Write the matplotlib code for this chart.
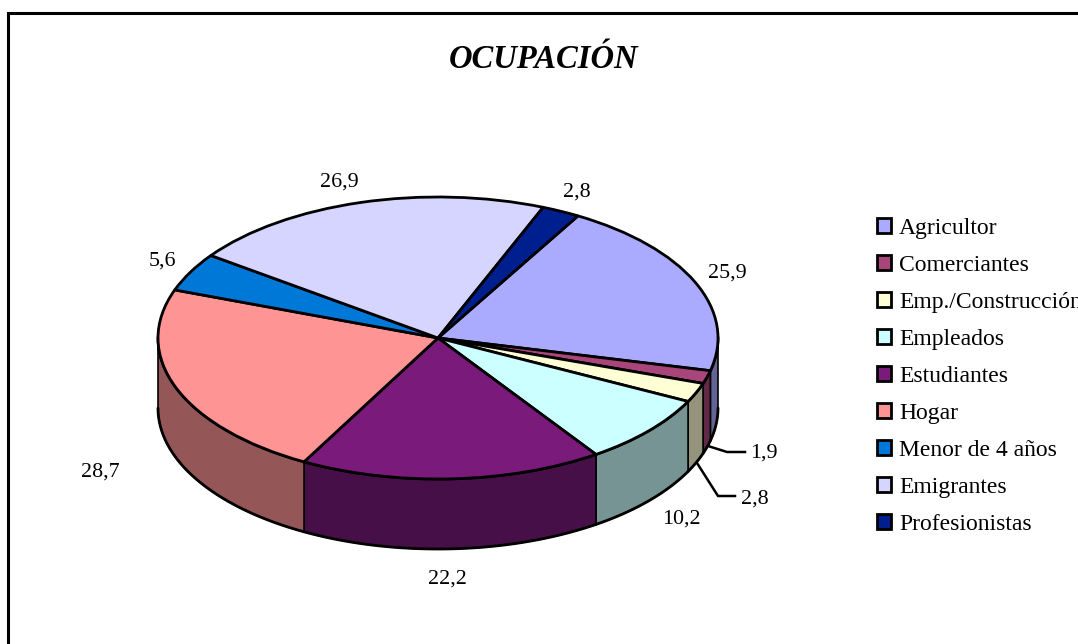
import numpy as np
import matplotlib
matplotlib.use("Agg")
import matplotlib.pyplot as plt
from matplotlib.lines import Line2D
from matplotlib.colors import to_rgb

categories = ["Agricultor", "Comerciantes", "Emp./Construcción", "Empleados", "Estudiantes",
              "Hogar", "Menor de 4 años", "Emigrantes", "Profesionistas"]
values = [25.9, 1.9, 2.8, 10.2, 22.2, 28.7, 5.6, 26.9, 2.8]
value_labels = ["25,9", "1,9", "2,8", "10,2", "22,2", "28,7", "5,6", "26,9", "2,8"]
colors = ["#AAAAFF", "#A8457A", "#FFFFD5", "#CCFFFF", "#7A1A7A", "#FF9494", "#0078D7", "#D5D5FF", "#001F8F"]

W, H = 1078, 644
CX, CY, RX, RY, DEPTH = 438, 338, 280, 141, 70
START = 60
FONT = "Liberation Serif"
LW = 2.0

label_px = [(727, 273), (764, 453), (755, 499), (681, 519), (447, 579),
            (100, 472), (162, 261), (339, 182), (577, 192)]
leaders_px = {1: [(708, 446), (727, 452), (745, 452)],
              2: [(697, 463), (718, 496), (735, 496)]}

fig = plt.figure(figsize=(W / 100, H / 100), dpi=100, facecolor="white")
ax = fig.add_axes([0, 0, 1, 1])

wedges, _ = ax.pie(values, colors=colors, startangle=START, counterclock=False,
                   wedgeprops=dict(edgecolor="black", linewidth=LW, joinstyle="round"))
for w in wedges:
    w.set_zorder(3)

ax.set_aspect("auto")
ax.set_xlim(-CX / RX, (W - CX) / RX)
ax.set_ylim(-(H - CY) / RY, CY / RY)

d = DEPTH / RY
v = np.asarray(values, dtype=float)
edges = START - np.concatenate([[0], np.cumsum(v)]) * 360 / v.sum()
for i, col in enumerate(colors):
    hi, lo = min(edges[i], 0), max(edges[i + 1], -180)
    if hi <= lo:
        continue
    t = np.radians(np.linspace(hi, lo, 80))
    x, y = np.cos(t), np.sin(t)
    dark = tuple(c * 0.58 for c in to_rgb(col))
    ax.fill(np.r_[x, x[::-1]], np.r_[y, y[::-1] - d], facecolor=dark,
            edgecolor="black", linewidth=1.2, zorder=1)
    ax.plot(x, y - d, color="black", lw=LW, zorder=2, solid_capstyle="round")
    ax.plot(x, y, color="black", lw=LW, zorder=2)


def fx(px):
    return px / W


def fy(py):
    return 1 - py / H


for (px, py), s in zip(label_px, value_labels):
    fig.text(fx(px), fy(py), s, family=FONT, fontsize=15.8, ha="center", va="center", color="black")

for pts in leaders_px.values():
    xs, ys = zip(*pts)
    fig.add_artist(Line2D([fx(a) for a in xs], [fy(b) for b in ys], color="black", lw=1.8))

fig.add_artist(Line2D([fx(8), fx(8), fx(W)], [fy(H), fy(13), fy(13)], color="black", lw=2.2,
                      solid_joinstyle="miter"))

fig.text(fx(544), fy(59), "OCUPACIÓN", family=FONT, fontsize=23.5, fontweight="bold", fontstyle="italic",
         ha="center", va="center", color="black")

leg = ax.legend(wedges, categories, loc="upper left", bbox_to_anchor=(fx(877), fy(218)),
                bbox_transform=fig.transFigure, frameon=False, borderpad=0, borderaxespad=0,
                prop=dict(family=FONT, size=17), handlelength=0.6, handleheight=0.6,
                handletextpad=0.34, labelspacing=0.675)
for h in leg.legend_handles:
    h.set_linewidth(2.0)

fig.savefig("out.png", dpi=100)
